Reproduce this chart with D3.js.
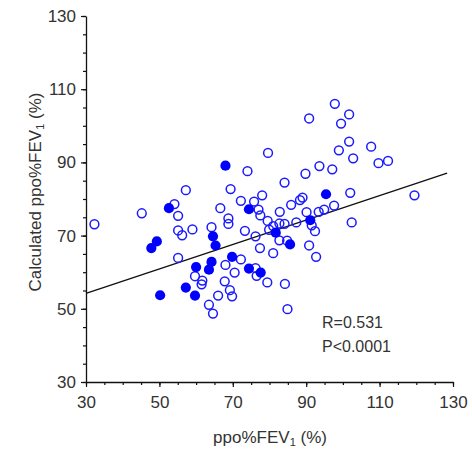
<!DOCTYPE html>
<html lang="en">
<head>
<meta charset="utf-8">
<title>ppo%FEV1 vs calculated ppo%FEV1</title>
<script src="https://cdn.jsdelivr.net/npm/d3@7"></script>
<style>
  body { margin: 0; background: #fff; }
  svg text { font-family: "Liberation Sans", Arial, sans-serif; fill: #333; }
  .axis path, .axis line { stroke: #111; }
</style>
</head>
<body>
<div id="chart"></div>
<script>
// open circles
var openX = [32.3, 45.2, 54.1, 57.2, 55.1, 55.1, 56.2, 59.0, 55.1, 59.7, 61.7, 61.5, 63.5, 64.6, 66.0,
  64.2, 66.6, 69.4, 68.8, 68.8, 72.2, 74.0, 73.3, 76.2, 68.0, 70.5, 72.2, 67.8, 69.2, 69.8,
  76.2, 76.5, 77.4, 75.8, 78.0, 77.0, 77.5, 79.5, 82.8, 85.9, 90.1, 93.4, 94.9, 97.6, 102.4,
  91.5, 92.4, 82.7, 84.1, 81.0, 79.9, 87.3, 82.7, 84.8, 81.0, 90.8, 92.7, 79.4, 84.2, 84.9,
  84.1, 102.0, 119.5, 88.3, 89.0, 97.8, 101.7, 99.5, 90.8, 101.7, 107.7, 98.9, 102.8, 109.7, 112.3,
  79.6, 93.6, 97.1, 89.8];
var openY = [73.1, 76.1, 78.6, 82.4, 75.4, 71.4, 70.1, 71.7, 63.9, 58.9, 57.7, 56.7, 51.1, 48.7, 53.6,
  72.3, 77.5, 82.7, 74.7, 73.2, 79.5, 87.6, 71.3, 69.8, 62.0, 59.9, 63.5, 57.5, 55.1, 53.4,
  61.1, 59.0, 66.6, 79.3, 81.0, 77.1, 75.5, 74.0, 76.5, 78.4, 76.4, 76.5, 77.1, 78.2, 73.6,
  72.8, 71.2, 73.3, 73.2, 72.6, 71.6, 73.6, 68.7, 68.6, 65.2, 67.3, 64.2, 57.2, 56.8, 49.9,
  84.5, 81.7, 81.0, 79.7, 80.4, 106.0, 103.1, 100.6, 102.0, 95.7, 94.3, 93.3, 91.1, 89.8, 90.4,
  92.6, 89.0, 88.1, 86.9];

// filled circles
var filledX = [68.0, 52.6, 74.4, 49.3, 47.8, 64.6, 65.3, 64.2, 63.5, 60.0,
  69.8, 74.4, 77.6, 57.2, 59.7, 50.2, 95.4, 91.1, 81.7, 85.6];
var filledY = [89.1, 77.5, 77.2, 68.4, 66.6, 69.8, 67.3, 62.8, 60.7, 61.4,
  64.2, 61.0, 59.9, 55.8, 53.6, 53.7, 81.3, 74.2, 70.8, 67.6];

// regression line
var fitIntercept = 44.2;
var fitSlope = 0.334;
var fitRange = [30, 128.4];

var xTicks = [30, 50, 70, 90, 110, 130];
var yTicks = [30, 50, 70, 90, 110, 130];
var statLines = ["R=0.531", "P<0.0001"];

var width = 472, height = 449;
var mLeft = 86, mRight = 453, mTop = 16, mBottom = 382;

var svg = d3.select("#chart").append("svg")
  .attr("width", width)
  .attr("height", height);

var x = d3.scaleLinear().domain([30, 130]).range([mLeft, mRight]);
var y = d3.scaleLinear().domain([30, 130]).range([mBottom, mTop]);

var minorTicks = d3.range(30, 131, 5);

// minor ticks first, then labelled ones
svg.append("g").attr("class", "axis")
  .attr("transform", "translate(0," + mBottom + ")")
  .call(d3.axisBottom(x).tickValues(minorTicks).tickSize(3).tickSizeOuter(0).tickFormat(""));
var xAxis = svg.append("g").attr("class", "axis")
  .attr("transform", "translate(0," + mBottom + ")")
  .call(d3.axisBottom(x).tickValues(xTicks).tickSize(5).tickSizeOuter(0).tickPadding(9));
xAxis.select(".domain").remove();
xAxis.selectAll("text").attr("font-size", 17).attr("fill", "#333")
  .style("font-family", "Liberation Sans, Arial, sans-serif");

svg.append("g").attr("class", "axis")
  .attr("transform", "translate(" + mLeft + ",0)")
  .call(d3.axisLeft(y).tickValues(minorTicks).tickSize(3).tickSizeOuter(0).tickFormat(""));
var yAxis = svg.append("g").attr("class", "axis")
  .attr("transform", "translate(" + mLeft + ",0)")
  .call(d3.axisLeft(y).tickValues(yTicks).tickSize(5).tickSizeOuter(0).tickPadding(5));
yAxis.select(".domain").remove();
yAxis.selectAll("text").attr("font-size", 17).attr("fill", "#333")
  .style("font-family", "Liberation Sans, Arial, sans-serif");

svg.selectAll(".axis path").attr("stroke-width", 1.3);
svg.selectAll(".axis line").attr("stroke-width", 1.2);

// fit line
svg.append("line")
  .attr("x1", x(fitRange[0])).attr("y1", y(fitIntercept + fitSlope * fitRange[0]))
  .attr("x2", x(fitRange[1])).attr("y2", y(fitIntercept + fitSlope * fitRange[1]))
  .attr("stroke", "#111").attr("stroke-width", 1.4);

var openPts = openX.map(function(v, i) { return [v, openY[i]]; });
var filledPts = filledX.map(function(v, i) { return [v, filledY[i]]; });

svg.selectAll(".open").data(openPts).enter()
  .append("circle").attr("class", "open")
  .attr("cx", function(d) { return x(d[0]); })
  .attr("cy", function(d) { return y(d[1]); })
  .attr("r", 4.4)
  .attr("fill", "none")
  .attr("stroke", "#1a1aff")
  .attr("stroke-width", 1.5);

svg.selectAll(".filled").data(filledPts).enter()
  .append("circle").attr("class", "filled")
  .attr("cx", function(d) { return x(d[0]); })
  .attr("cy", function(d) { return y(d[1]); })
  .attr("r", 5.1)
  .attr("fill", "#0000ff");

// stats
svg.selectAll(".stat").data(statLines).enter()
  .append("text").attr("class", "stat")
  .attr("x", 322)
  .attr("y", function(d, i) { return 328 + i * 24; })
  .attr("font-size", 16)
  .text(function(d) { return d; });

// axis titles
var xt = svg.append("text")
  .attr("x", 270).attr("y", 443)
  .attr("text-anchor", "middle")
  .attr("font-size", 17);
xt.append("tspan").text("ppo%FEV");
xt.append("tspan").attr("font-size", 11).attr("dy", 3).text("1");
xt.append("tspan").attr("dy", -3).text(" (%)");

var yt = svg.append("text")
  .attr("transform", "translate(41,192) rotate(-90)")
  .attr("text-anchor", "middle")
  .attr("font-size", 17);
yt.append("tspan").text("Calculated ppo%FEV");
yt.append("tspan").attr("font-size", 11).attr("dy", 3).text("1");
yt.append("tspan").attr("dy", -3).text(" (%)");
</script>
</body>
</html>
